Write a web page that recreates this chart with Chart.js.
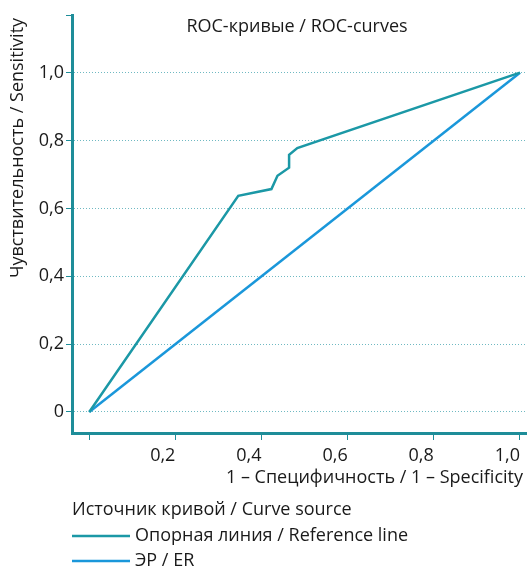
<!DOCTYPE html>
<html>
<head>
<meta charset="utf-8">
<script src="https://cdn.jsdelivr.net/npm/chart.js@4/dist/chart.umd.min.js"></script>
<style>
html,body{margin:0;padding:0;background:#fff;}
#wrap{width:529px;height:566px;position:relative;}
</style>
</head>
<body>
<div id="wrap"><canvas id="c" width="529" height="566"></canvas></div>
<script>
const titleText = 'ROC-кривые / ROC-curves';
const yTitle = 'Чувствительность / Sensitivity';
const xTitle = '1 – Специфичность / 1 – Specificity';
const legendTitle = 'Источник кривой / Curve source';
const seriesNames = ['Опорная линия / Reference line', 'ЭР / ER'];
const curveX = [0, 0.346, 0.423, 0.437, 0.464, 0.464, 0.483, 1];
const curveY = [0, 0.637, 0.657, 0.696, 0.720, 0.758, 0.778, 1];
const diagX = [0, 1];
const diagY = [0, 1];
const tickValues = [0, 0.2, 0.4, 0.6, 0.8, 1.0];

const TEAL = '#1B98A6';
const BLUE = '#1A97DA';
const AXIS = '#1E8D99';
const GRID = '#6FB9C2';
const FONT = "'Open Sans'";
const FS = 18;
const TXT = '#1a1a1a';

const fmt = v => v === 0 ? '0' : v.toFixed(1).replace('.', ',');
const toPts = (xs, ys) => xs.map((x, i) => ({x: x, y: ys[i]}));

const Y_MIN = -0.062, Y_MAX = 1.17, X_MIN = -0.04, X_MAX = 1.014;

const textPlugin = {
  id: 'texts',
  afterDraw(chart) {
    const ctx = chart.ctx;
    ctx.save();
    ctx.fillStyle = TXT;
    ctx.font = FS + 'px ' + FONT;
    ctx.textBaseline = 'middle';
    ctx.textAlign = 'center';
    ctx.fillText(titleText, 297, 27);
    ctx.textAlign = 'right';
    ctx.fillText(xTitle, 523, 478);
    ctx.save();
    ctx.translate(18, 148);
    ctx.rotate(-Math.PI / 2);
    ctx.textAlign = 'center';
    ctx.fillText(yTitle, 0, 0);
    ctx.restore();
    ctx.textAlign = 'left';
    ctx.fillText(legendTitle, 72, 510);
    const cols = [TEAL, BLUE];
    const ys = [536, 561];
    for (let i = 0; i < 2; i++) {
      ctx.strokeStyle = cols[i];
      ctx.lineWidth = 2.5;
      ctx.beginPath();
      ctx.moveTo(72, ys[i]);
      ctx.lineTo(130, ys[i]);
      ctx.stroke();
      ctx.fillText(chart.data.datasets[i].label, 135, ys[i]);
    }
    ctx.restore();
  }
};

new Chart(document.getElementById('c'), {
  type: 'scatter',
  data: {
    datasets: [
      {label: seriesNames[0], data: toPts(curveX, curveY), showLine: true, borderColor: TEAL, borderWidth: 2.5, pointRadius: 0, fill: false, tension: 0},
      {label: seriesNames[1], data: toPts(diagX, diagY), showLine: true, borderColor: BLUE, borderWidth: 2.5, pointRadius: 0, fill: false, tension: 0}
    ]
  },
  options: {
    responsive: false,
    animation: false,
    events: [],
    layout: {padding: {top: 15, right: 3, bottom: 100, left: 0}},
    plugins: {legend: {display: false}, tooltip: {enabled: false}, title: {display: false}},
    scales: {
      x: {
        type: 'linear', min: X_MIN, max: X_MAX,
        afterBuildTicks: s => { s.ticks = tickValues.map(v => ({value: v})); },
        afterFit: s => { s.height = 33; s.paddingRight = 0; s.paddingLeft = 0; },
        ticks: {
          callback: v => v === 0 ? '' : fmt(v),
          align: 'end',
          color: TXT, font: {family: FONT, size: FS}, padding: 5, maxRotation: 0, autoSkip: false
        },
        grid: {drawOnChartArea: false, drawTicks: true, tickLength: 7, tickColor: AXIS, tickWidth: 1},
        border: {display: true, color: AXIS, width: 3}
      },
      y: {
        type: 'linear', min: Y_MIN, max: Y_MAX,
        afterBuildTicks: s => { s.ticks = tickValues.concat([Y_MAX]).map(v => ({value: v})); },
        afterFit: s => { s.width = 72; s.paddingTop = 0; s.paddingBottom = 0; },
        ticks: {
          callback: v => v > 1.05 ? '' : fmt(v),
          color: TXT, font: {family: FONT, size: FS}, padding: 2, autoSkip: false
        },
        grid: {
          drawOnChartArea: true, drawTicks: true, tickLength: 6, tickWidth: 1,
          color: ctx => (ctx.tick && ctx.tick.value > 1.05) ? 'rgba(0,0,0,0)' : GRID,
          tickColor: AXIS, lineWidth: 1
        },
        border: {display: true, color: AXIS, width: 3, dash: [1, 2]}
      }
    }
  },
  plugins: [textPlugin]
});
</script>
</body>
</html>
